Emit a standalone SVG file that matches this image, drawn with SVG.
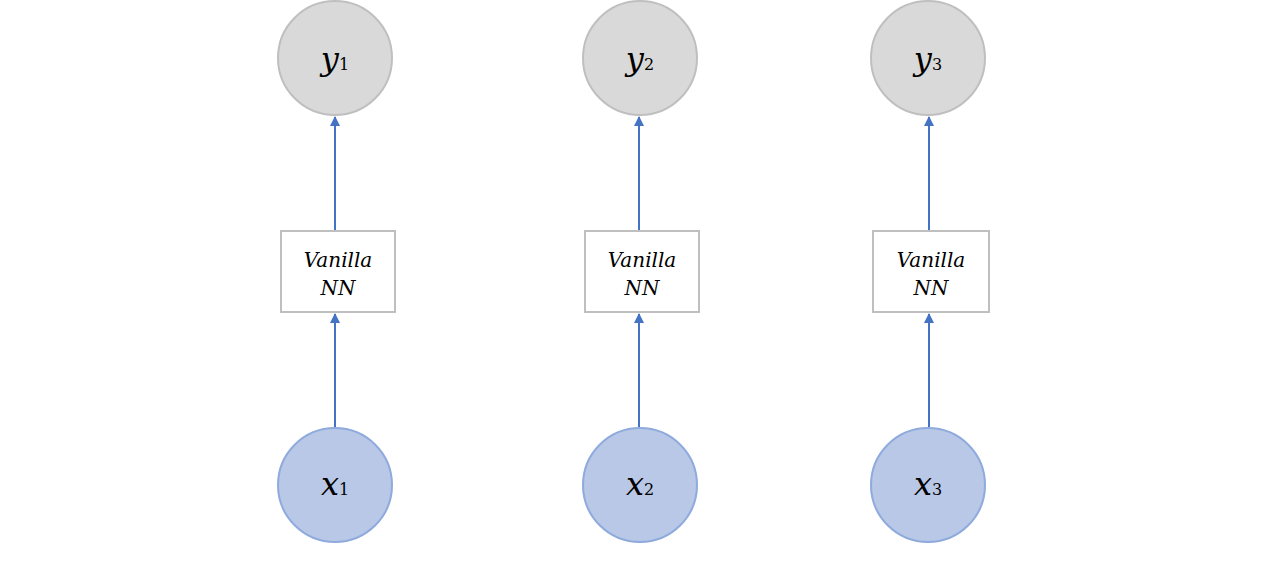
<svg xmlns="http://www.w3.org/2000/svg" width="1272" height="588" viewBox="0 0 1272 588">
<style>
.y{fill:#d9d9d9;stroke:#bfbfbf;stroke-width:2}
.x{fill:#b8c8e6;stroke:#8faadc;stroke-width:2}
.b{fill:#fff;stroke:#bfbfbf;stroke-width:2}
.t{font-family:"DejaVu Serif",serif;font-style:italic;fill:#000;text-anchor:middle}
.c{stroke:#4472c4;stroke-width:2;fill:none;marker-end:url(#a)}
</style>
<defs><marker id="a" viewBox="0 0 10 10" refX="9" refY="5" markerWidth="5" markerHeight="5" orient="auto"><path d="M0,0L10,5L0,10z" fill="#4472c4"/></marker></defs>
<rect width="1272" height="588" fill="#fff"/>
<g id="connectors">
<line class="c" x1="335" y1="231" x2="335" y2="117"/>
<line class="c" x1="335" y1="427" x2="335" y2="314"/>
<line class="c" x1="639" y1="231" x2="639" y2="117"/>
<line class="c" x1="639" y1="427" x2="639" y2="314"/>
<line class="c" x1="929" y1="231" x2="929" y2="117"/>
<line class="c" x1="929" y1="427" x2="929" y2="314"/>
</g>
<g id="y1"><circle class="y" cx="335" cy="58" r="57"/><text class="t" x="335" y="70" font-size="32">y<tspan font-size="16" font-style="normal">1</tspan></text></g>
<g id="y2"><circle class="y" cx="640" cy="58" r="57"/><text class="t" x="640" y="70" font-size="32">y<tspan font-size="16" font-style="normal">2</tspan></text></g>
<g id="y3"><circle class="y" cx="928" cy="58" r="57"/><text class="t" x="928" y="70" font-size="32">y<tspan font-size="16" font-style="normal">3</tspan></text></g>
<g id="nn1"><rect class="b" x="281" y="231" width="114" height="81"/><text class="t" x="338" y="267" font-size="20">Vanilla</text><text class="t" x="338" y="295" font-size="20">NN</text></g>
<g id="nn2"><rect class="b" x="585" y="231" width="114" height="81"/><text class="t" x="642" y="267" font-size="20">Vanilla</text><text class="t" x="642" y="295" font-size="20">NN</text></g>
<g id="nn3"><rect class="b" x="873" y="231" width="116" height="81"/><text class="t" x="931" y="267" font-size="20">Vanilla</text><text class="t" x="931" y="295" font-size="20">NN</text></g>
<g id="x1"><circle class="x" cx="335" cy="485" r="57"/><text class="t" x="335" y="495" font-size="32">x<tspan font-size="16" font-style="normal">1</tspan></text></g>
<g id="x2"><circle class="x" cx="640" cy="485" r="57"/><text class="t" x="640" y="495" font-size="32">x<tspan font-size="16" font-style="normal">2</tspan></text></g>
<g id="x3"><circle class="x" cx="928" cy="485" r="57"/><text class="t" x="928" y="495" font-size="32">x<tspan font-size="16" font-style="normal">3</tspan></text></g>
</svg>
